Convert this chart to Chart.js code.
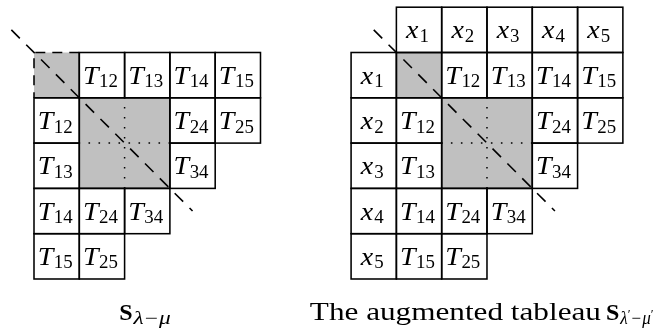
<!DOCTYPE html>
<html>
<head>
<meta charset="utf-8">
<script src="https://cdn.jsdelivr.net/npm/chart.js@4"></script>
<style>
html,body{margin:0;padding:0;background:#fff;}
#wrap{width:665px;height:331px;}
</style>
</head>
<body>
<div id="wrap"><canvas id="c" width="665" height="331"></canvas></div>
<script>
// ---- data (in cell units) ----
// subscripts of T in the skew tableau body (row by row); "" = shaded/empty
const bodySubs = [
  ["", "12", "13", "14", "15"],
  ["12", "", "", "24", "25"],
  ["13", "", "", "34"],
  ["14", "24", "34"],
  ["15", "25"]
];
// shaded single cells [row, col] and shaded block [row0, col0, row1, col1]
const shadedCells = [[0, 0]];
const shadedBlock = [1, 1, 3, 3];
// variable indices of the augmented row / column
const varIndices = ["1", "2", "3", "4", "5"];
// tableau origins (column offset of body)
const leftBodyCol = 0;
const rightBodyCol = 8;
const rightVarCol = 7;
const headerRow = -1;
// diagonal endpoints relative to body origin
const diagStart = [-0.5, -0.5];
const diagEnd = [3.5, 3.5];
// captions
const captionLeft = { bold: "S", sub: ["λ", "", "−", "μ", ""] };
const captionRight = { prefix: "The augmented tableau", bold: "S", sub: ["λ", "′", "−", "μ", "′"] };

// axis ranges (cell units)
const X_MIN = -0.7506, X_MAX = 13.93;
const Y_MIN = -1.159, Y_MAX = 6.148;

const LW = 1.55;
const GRAY = '#c0c0c0';
const SERIF = '"Liberation Serif", "DejaVu Serif", serif';

function diagData(off) {
  return [{ x: diagStart[0] + off, y: diagStart[1] }, { x: diagEnd[0] + off, y: diagEnd[1] }];
}
function dottedData(off) {
  const [r0, c0, r1, c1] = shadedBlock;
  const mc = (c0 + c1) / 2, mr = (r0 + r1) / 2;
  return {
    v: [{ x: mc + off, y: r0 }, { x: mc + off, y: r1 }],
    h: [{ x: c0 + off, y: mr }, { x: c1 + off, y: mr }]
  };
}
const dL = dottedData(leftBodyCol), dR = dottedData(rightBodyCol);

function lineDs(data, dash, off, w) {
  return {
    data, showLine: true, borderColor: '#000', borderWidth: w || LW,
    borderDash: dash, borderDashOffset: off || 0, pointRadius: 0, fill: false, tension: 0,
    borderCapStyle: 'butt'
  };
}

const datasets = [
  lineDs(dL.v, [1.6, 8.4], 0.8, 1.5),
  lineDs(dL.h, [1.6, 8.4], 0.8, 1.5),
  lineDs(dR.v, [1.6, 8.4], 0.8, 1.5),
  lineDs(dR.h, [1.6, 8.4], 0.8, 1.5),
  lineDs(diagData(leftBodyCol), [12, 9], 0, 1.6),
  lineDs(diagData(rightBodyCol), [12, 9], 0, 1.6)
];

function runWidth(ctx, pieces) {
  let w = 0;
  pieces.forEach(p => { ctx.font = p.font; w += (p.gap || 0) + ctx.measureText(p.t).width * (p.sx || 1); });
  return w;
}
function drawRun(ctx, pieces, x, y) {
  let cx = x;
  pieces.forEach(p => {
    cx += p.gap || 0;
    ctx.font = p.font;
    const w = ctx.measureText(p.t).width;
    const sx = p.sx || 1;
    ctx.save();
    ctx.translate(cx, y + (p.dy || 0));
    ctx.scale(sx, 1);
    ctx.fillText(p.t, 0, 0);
    ctx.restore();
    cx += w * sx;
  });
  return cx - x;
}

const tableauPlugin = {
  id: 'tableau',
  beforeDatasetsDraw(chart) {
    const ctx = chart.ctx, xs = chart.scales.x, ys = chart.scales.y;
    const px = v => xs.getPixelForValue(v), py = v => ys.getPixelForValue(v);
    ctx.save();
    ctx.lineWidth = LW; ctx.strokeStyle = '#000';
    const rect = (c, r, w, h) => [px(c), py(r), px(c + w) - px(c), py(r + h) - py(r)];

    [leftBodyCol, rightBodyCol].forEach((off, ti) => {
      ctx.fillStyle = GRAY;
      shadedCells.forEach(([r, c]) => ctx.fillRect(...rect(c + off, r, 1, 1)));
      const [r0, c0, r1, c1] = shadedBlock;
      ctx.fillRect(...rect(c0 + off, r0, c1 - c0, r1 - r0));
      bodySubs.forEach((row, r) => row.forEach((s, c) => {
        const inBlock = r >= r0 && r < r1 && c >= c0 && c < c1;
        if (inBlock) return;
        const isCorner = shadedCells.some(([sr, sc]) => sr === r && sc === c);
        if (isCorner && ti === 0) {
          const [x, y, w, h] = rect(c + off, r, 1, 1);
          ctx.setLineDash([]);
          ctx.beginPath(); ctx.moveTo(x + w, y); ctx.lineTo(x + w, y + h); ctx.lineTo(x, y + h); ctx.stroke();
          ctx.setLineDash([10, 7]);
          ctx.beginPath(); ctx.moveTo(x + w, y); ctx.lineTo(x, y); ctx.lineTo(x, y + h); ctx.stroke();
          ctx.setLineDash([]);
          return;
        }
        ctx.strokeRect(...rect(c + off, r, 1, 1));
      }));
      ctx.strokeRect(...rect(c0 + off, r0, c1 - c0, r1 - r0));
    });
    varIndices.forEach((s, i) => {
      ctx.strokeRect(...rect(rightBodyCol + i, headerRow, 1, 1));
      ctx.strokeRect(...rect(rightVarCol, i, 1, 1));
    });
    ctx.restore();
  },
  afterDatasetsDraw(chart) {
    const ctx = chart.ctx, xs = chart.scales.x, ys = chart.scales.y;
    const px = v => xs.getPixelForValue(v), py = v => ys.getPixelForValue(v);
    const unit = px(1) - px(0);
    const mainIt = 'italic 25px ' + SERIF;
    const subRm = '18px ' + SERIF;
    ctx.save();
    ctx.fillStyle = '#000';
    ctx.textBaseline = 'alphabetic';
    ctx.textAlign = 'left';
    const cellText = (c, r, main, sub) => {
      const pieces = [
        { t: main, font: mainIt, sx: 1.12 },
        { t: sub, font: subRm, sx: 1.05, dy: 3.5, gap: main === 'T' ? 0.5 : 1 }
      ];
      const w = runWidth(ctx, pieces);
      drawRun(ctx, pieces, px(c + 0.5) - w / 2 - 1.5, py(r) + 0.69 * unit);
    };
    [leftBodyCol, rightBodyCol].forEach(off => {
      bodySubs.forEach((row, r) => row.forEach((s, c) => {
        if (s) cellText(c + off, r, 'T', s);
      }));
    });
    varIndices.forEach((s, i) => {
      cellText(rightBodyCol + i, headerRow, 'x', s);
      cellText(rightVarCol, i, 'x', s);
    });
    // captions
    const capY = py(5.9);
    const boldF = 'bold 24px ' + SERIF, subIt = 'italic 18px ' + SERIF, subRm2 = '18px ' + SERIF,
          primeF = '13px ' + SERIF, rm = '26px ' + SERIF;
    const subPieces = (arr, sx) => [
      { t: arr[0], font: subIt, sx: sx, dy: 4.5, gap: 1 },
      { t: arr[1], font: primeF, sx: 1, dy: -1.5, gap: 0 },
      { t: arr[2], font: subRm2, sx: sx, dy: 4.5, gap: 1 },
      { t: arr[3], font: subIt, sx: sx, dy: 4.5, gap: 1 },
      { t: arr[4], font: primeF, sx: 1, dy: -1.5, gap: 0 }
    ];
    const lp = [{ t: captionLeft.bold, font: boldF, sx: 1 }].concat(subPieces(captionLeft.sub, 1.3));
    const lw = runWidth(ctx, lp);
    drawRun(ctx, lp, px(2.45) - lw / 2, capY);
    const rp = [{ t: captionRight.prefix, font: rm, sx: 1.2 },
                { t: captionRight.bold, font: boldF, sx: 1, gap: 5 }].concat(subPieces(captionRight.sub, 0.95));
    drawRun(ctx, rp, px(6.09), capY);
    ctx.restore();
  }
};

new Chart(document.getElementById('c'), {
  type: 'scatter',
  data: { datasets },
  options: {
    responsive: false, animation: false, devicePixelRatio: 1,
    layout: { padding: 0 },
    plugins: { legend: { display: false }, tooltip: { enabled: false }, title: { display: false } },
    scales: {
      x: { type: 'linear', min: X_MIN, max: X_MAX, display: false },
      y: { type: 'linear', min: Y_MIN, max: Y_MAX, reverse: true, display: false }
    }
  },
  plugins: [tableauPlugin]
});
</script>
</body>
</html>
